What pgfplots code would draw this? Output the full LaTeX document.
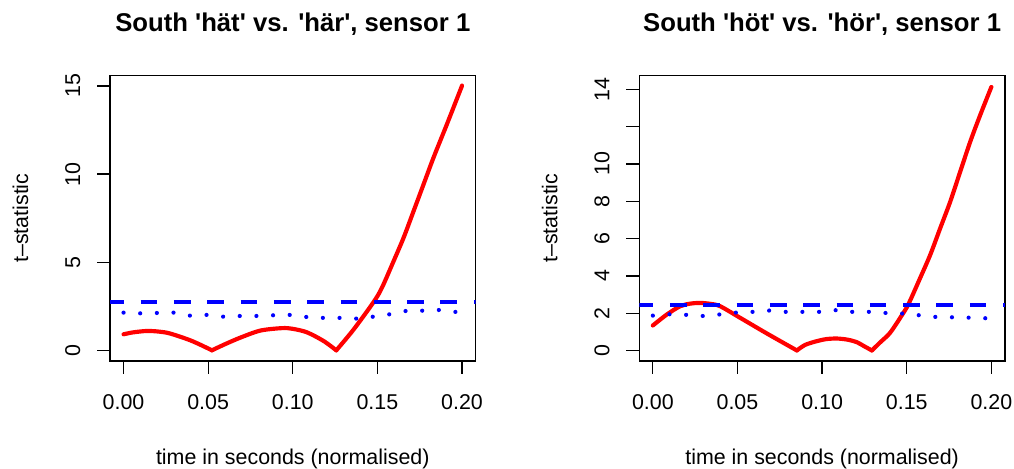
\documentclass[border=0pt]{standalone}
\usepackage{fontspec}
\setmainfont{Liberation Sans}
\usepackage{pgfplots}
\pgfplotsset{compat=1.18}
\definecolor{rred}{RGB}{255,0,0}
\definecolor{rblue}{RGB}{0,0,255}
\pgfplotsset{
  common/.style={
    scale only axis, width=182.8pt, height=142.75pt,
    anchor=north west,
    axis line style={line width=0.65pt, black},
    tick align=outside, major tick length=6.5pt,
    xtick pos=bottom, ytick pos=left,
    tick style={line width=0.65pt, black},
    xmin=-0.008, xmax=0.208,
    xtick={0,0.05,0.1,0.15,0.2},
    xticklabels={0.00,0.05,0.10,0.15,0.20},
    /pgf/number format/assume math mode=true,
    tick label style={font=\fontsize{10.7}{12}\selectfont},
    xticklabel style={anchor=base, yshift=-18pt},
    yticklabel style={xshift=-8.5pt, anchor=base, rotate=90},
    every axis y label/.style={at={(axis description cs:0,0.5)}, xshift=-41pt, rotate=90, anchor=base, font=\fontsize{10.7}{12}\selectfont},
    every axis x label/.style={at={(axis description cs:0.5,0)}, yshift=-51.75pt, anchor=base, font=\fontsize{10.7}{12}\selectfont},
    every axis title/.style={at={(axis description cs:0.5,1)}, yshift=21.9pt, anchor=base, font=\bfseries\fontsize{12.84}{15}\selectfont},
    xlabel={time in seconds (normalised)},
    ylabel={t–statistic},
    clip=true,
  },
  redline/.style={color=rred, line width=2.08pt, line cap=round, line join=round, no markers, smooth, tension=0.5},
  dashline/.style={color=rblue, line width=2.08pt, line cap=butt, dash pattern=on 8.33pt off 8.33pt, no markers},
  dotline/.style={color=rblue, line width=2.08pt, line cap=round, dash pattern=on 0.01pt off 8.32pt, no markers},
}
\begin{document}
\begin{tikzpicture}[x=1pt,y=1pt]
\path[use as bounding box] (0,0) rectangle (507,-234);
\begin{axis}[common, at={(55pt,-37.7pt)},
  ymin=-0.6, ymax=15.6, ytick={0,5,10,15}, yticklabels={0,5,10,15},
  title={South \textquotesingle hät\textquotesingle\ vs. \textquotesingle här\textquotesingle, sensor 1}]
\addplot[redline] coordinates {
(0,0.91)(0.005,1.01)(0.01,1.07)(0.014,1.10)(0.019,1.08)(0.0256,1.00)(0.032,0.82)(0.0394,0.57)(0.046,0.29)(0.0522,0)};
\addplot[redline] coordinates {
(0.0522,0)(0.06,0.35)(0.069,0.72)(0.0808,1.12)(0.0936,1.26)(0.1,1.22)(0.1084,1.02)(0.1182,0.53)(0.1257,0)};
\addplot[redline] coordinates {
(0.1257,0)(0.136,1.19)(0.1478,2.75)(0.1527,3.56)(0.1596,5.07)(0.1655,6.40)(0.1714,7.91)(0.1773,9.43)(0.1832,10.95)(0.1911,12.84)(0.2,15.02)};
\addplot[dashline] coordinates {(-0.0096,2.72)(0.22,2.72)};
\addplot[dotline] coordinates {
(0,2.14)(0.0099,2.10)(0.0197,2.12)(0.0296,2.14)(0.0392,1.97)(0.0491,2.01)(0.0589,1.91)(0.0688,1.95)(0.0786,1.95)(0.0885,1.99)
(0.0983,2.01)(0.1082,1.89)(0.118,1.84)(0.1279,1.84)(0.1377,1.80)(0.1476,1.91)(0.1575,2.05)(0.1665,2.23)(0.1766,2.25)(0.1862,2.29)(0.196,2.18)(0.2,2.16)};
\end{axis}
\begin{axis}[common, at={(319.65pt,-37.7pt)},
  ymin=-0.56, ymax=14.75, ytick={0,2,4,6,8,10,12,14}, yticklabels={0,2,4,6,8,10,,14},
  title={South \textquotesingle höt\textquotesingle\ vs. \textquotesingle hör\textquotesingle, sensor 1}]
\addplot[redline] coordinates {
(0,1.34)(0.0083,1.93)(0.0161,2.37)(0.022,2.51)(0.028,2.55)(0.034,2.50)(0.0398,2.37)(0.0516,1.75)(0.0674,0.91)(0.0851,0)};
\addplot[redline] coordinates {
(0.0851,0)(0.09,0.30)(0.0969,0.50)(0.1025,0.61)(0.1087,0.64)(0.115,0.58)(0.1206,0.44)(0.125,0.22)(0.1294,0)};
\addplot[redline] coordinates {
(0.1294,0)(0.1345,0.45)(0.1402,0.95)(0.1472,1.90)(0.1511,2.50)(0.158,3.90)(0.1639,5.13)(0.1698,6.56)(0.1757,7.98)(0.1816,9.59)(0.1875,11.19)(0.1934,12.62)(0.2,14.13)};
\addplot[dashline] coordinates {(-0.0096,2.46)(0.22,2.46)};
\addplot[dotline] coordinates {
(0,1.87)(0.0098,1.94)(0.0197,1.91)(0.0295,1.85)(0.0394,1.93)(0.049,2.03)(0.0589,2.07)(0.0687,2.14)(0.0786,2.07)(0.0884,2.07)
(0.0982,2.07)(0.1081,2.16)(0.1179,2.07)(0.1278,2.07)(0.1376,2.01)(0.1475,1.98)(0.1573,1.89)(0.1668,1.80)(0.1766,1.78)(0.1864,1.76)(0.1963,1.73)(0.2,1.73)};
\end{axis}
\end{tikzpicture}
\end{document}
